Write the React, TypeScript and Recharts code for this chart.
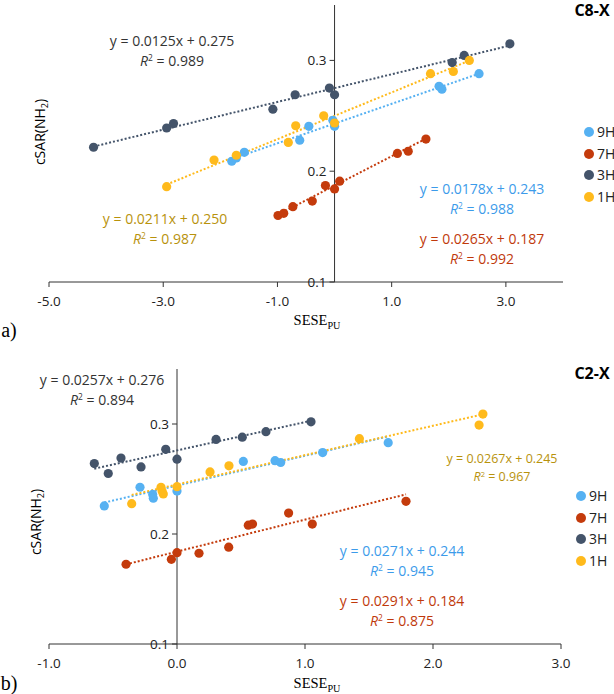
import React from "react";
import { ScatterChart, Scatter, XAxis, YAxis, ReferenceLine, ReferenceDot } from "recharts";

const SERIES = ["9H", "7H", "3H", "1H"];
const DOT_COLORS = ["#56B1F2", "#C43B0C", "#44546A", "#FFBA1C"];
const TEXT_COLORS = ["#3C9BEA", "#C0390B", "#333333", "#B8920C"];

const FONT = '"Open Sans", "Noto Sans", sans-serif';
const SERIF = '"Liberation Serif", "DejaVu Serif", serif';

// a) C8-X
const a9H_x = [-1.8, -1.72, -1.58, -0.61, -0.45, -0.03, 0.0, 1.83, 1.88, 2.53];
const a9H_y = [0.209, 0.212, 0.217, 0.228, 0.2405, 0.246, 0.2405, 0.2766, 0.274, 0.288];
const a7H_x = [-0.99, -0.89, -0.73, -0.39, -0.16, 0.0, 0.09, 1.1, 1.29, 1.6];
const a7H_y = [0.16, 0.162, 0.168, 0.173, 0.187, 0.184, 0.191, 0.216, 0.218, 0.229];
const a3H_x = [-4.22, -2.94, -2.82, -1.08, -0.69, -0.09, 0.0, 2.06, 2.27, 3.07];
const a3H_y = [0.2216, 0.239, 0.243, 0.256, 0.269, 0.275, 0.269, 0.298, 0.3045, 0.315];
const a1H_x = [-2.94, -2.11, -1.72, -0.81, -0.68, -0.19, 0.0, 1.68, 2.08, 2.36];
const a1H_y = [0.186, 0.21, 0.2144, 0.226, 0.241, 0.25, 0.2435, 0.288, 0.29, 0.3];
const aSlopes = [0.0178, 0.0265, 0.0125, 0.0211];
const aIntercepts = [0.243, 0.187, 0.275, 0.25];
const aR2 = [0.988, 0.992, 0.989, 0.987];
const aXTicks = [-5, -3, -1, 1, 3];

// b) C2-X
const b9H_x = [-0.568, -0.289, -0.19, -0.185, 0.0, 0.518, 0.766, 0.81, 1.138, 1.65];
const b9H_y = [0.2255, 0.2425, 0.236, 0.2325, 0.239, 0.266, 0.2667, 0.265, 0.274, 0.283];
const b7H_x = [-0.398, -0.044, 0.0, 0.172, 0.404, 0.557, 0.59, 0.872, 1.057, 1.789];
const b7H_y = [0.1725, 0.177, 0.183, 0.1825, 0.188, 0.208, 0.209, 0.219, 0.209, 0.2297];
const b3H_x = [-0.646, -0.537, -0.4375, -0.281, -0.088, 0.0, 0.305, 0.51, 0.695, 1.047];
const b3H_y = [0.264, 0.255, 0.269, 0.261, 0.277, 0.268, 0.286, 0.288, 0.293, 0.302];
const b1H_x = [-0.354, -0.125, -0.117, -0.107, 0.0, 0.258, 0.406, 1.425, 2.36, 2.39];
const b1H_y = [0.2276, 0.2425, 0.239, 0.2364, 0.243, 0.2564, 0.262, 0.2867, 0.299, 0.309];
const bSlopes = [0.0271, 0.0291, 0.0257, 0.0267];
const bIntercepts = [0.244, 0.184, 0.276, 0.245];
const bR2 = [0.945, 0.875, 0.894, 0.967];
const bXTicks = [-1, 0, 1, 2, 3];

const Y_TICKS = [0.1, 0.2, 0.3];

type Pt = { x: number; y: number };
const zip = (xs: number[], ys: number[]): Pt[] => xs.map((x, i) => ({ x, y: ys[i] }));

const aData = [zip(a9H_x, a9H_y), zip(a7H_x, a7H_y), zip(a3H_x, a3H_y), zip(a1H_x, a1H_y)];
const bData = [zip(b9H_x, b9H_y), zip(b7H_x, b7H_y), zip(b3H_x, b3H_y), zip(b1H_x, b1H_y)];

function Panel({ data, slopes, intercepts, xDomain, xTicks, top, height, margin }: any) {
  return (
    <div style={{ position: "absolute", left: 0, top }}>
      <ScatterChart width={614} height={height} margin={margin}>
        <XAxis
          type="number"
          dataKey="x"
          domain={xDomain}
          ticks={xTicks}
          allowDataOverflow
          height={30}
          tickFormatter={(v: number) => v.toFixed(1)}
          tick={{ fontSize: 13.5, fill: "#222", fontFamily: FONT }}
          tickSize={5}
          tickMargin={9}
          stroke="#333"
        />
        <YAxis type="number" dataKey="y" domain={[0.1, 0.35]} hide allowDataOverflow />
        <ReferenceLine x={0} stroke="#333" strokeWidth={1} />
        {Y_TICKS.map((v) => (
          <ReferenceDot
            key={v}
            x={0}
            y={v}
            r={0}
            ifOverflow="visible"
            shape={(p: any) => (
              <g>
                <line x1={p.cx - 5} y1={p.cy} x2={p.cx} y2={p.cy} stroke="#333" />
                <text x={p.cx - 8} y={p.cy + 5} textAnchor="end" fontSize={13.5} fill="#222" fontFamily={FONT}>
                  {v.toFixed(1)}
                </text>
              </g>
            )}
          />
        ))}
        {data.map((pts: Pt[], i: number) => (
          <Scatter
            key={SERIES[i]}
            name={SERIES[i]}
            data={pts}
            isAnimationActive={false}
            shape={(p: any) => <circle cx={p.cx} cy={p.cy} r={4.6} fill={DOT_COLORS[i]} />}
          />
        ))}
        {data.map((pts: Pt[], i: number) => {
          const xs = pts.map((d) => d.x);
          const x1 = Math.min(...xs);
          const x2 = Math.max(...xs);
          return (
            <ReferenceLine
              key={"t" + i}
              segment={[
                { x: x1, y: slopes[i] * x1 + intercepts[i] },
                { x: x2, y: slopes[i] * x2 + intercepts[i] },
              ]}
              stroke={DOT_COLORS[i]}
              strokeWidth={2}
              strokeDasharray="2 2"
              ifOverflow="visible"
            />
          );
        })}
      </ScatterChart>
    </div>
  );
}

function Eq({ x, y, i, slopes, intercepts, r2, size = 14, gap = 20 }: any) {
  const style: React.CSSProperties = {
    position: "absolute",
    left: x,
    transform: "translate(-50%, -50%)",
    whiteSpace: "nowrap",
    color: TEXT_COLORS[i],
    fontSize: size,
    fontFamily: FONT,
    lineHeight: 1,
  };
  return (
    <>
      <div style={{ ...style, top: y }}>
        y = {slopes[i].toFixed(4)}x + {intercepts[i].toFixed(3)}
      </div>
      <div style={{ ...style, top: y + gap }}>
        <i>R</i>
        <sup style={{ fontSize: "0.6em", verticalAlign: "0.6em" }}>2</sup> = {r2[i].toFixed(3)}
      </div>
    </>
  );
}

function Legend({ x, y }: { x: number; y: number }) {
  return (
    <>
      {SERIES.map((s, i) => (
        <div
          key={s}
          style={{
            position: "absolute",
            left: x - 5,
            top: y + i * 21.5 - 9,
            display: "flex",
            alignItems: "center",
            fontSize: 14,
            fontFamily: FONT,
            color: "#222",
            lineHeight: "18px",
          }}
        >
          <span
            style={{ width: 10, height: 10, borderRadius: 5, background: DOT_COLORS[i], marginRight: 3 }}
          />
          {s}
        </div>
      ))}
    </>
  );
}

function AbsText({ x, y, children, style }: any) {
  return (
    <div
      style={{
        position: "absolute",
        left: x,
        top: y,
        transform: "translate(-50%, -50%)",
        whiteSpace: "nowrap",
        lineHeight: 1,
        ...style,
      }}
    >
      {children}
    </div>
  );
}

export default function App() {
  const yLabel = (
    <>
      cSAR(NH<sub style={{ fontSize: "0.65em" }}>2</sub>)
    </>
  );
  const xLabel = (
    <>
      SESE<sub style={{ fontSize: "0.7em", lineHeight: 0 }}>PU</sub>
    </>
  );
  return (
    <div
      style={{
        position: "absolute",
        left: 0,
        top: 0,
        width: 614,
        height: 694,
        background: "#fff",
        overflow: "hidden",
        fontFamily: FONT,
      }}
    >
      <Panel
        data={aData}
        slopes={aSlopes}
        intercepts={aIntercepts}
        xDomain={[-5, 4]}
        xTicks={aXTicks}
        top={0}
        height={340}
        margin={{ top: 5, left: 49, right: 51, bottom: 28 }}
      />
      <Panel
        data={bData}
        slopes={bSlopes}
        intercepts={bIntercepts}
        xDomain={[-1, 3]}
        xTicks={bXTicks}
        top={340}
        height={354}
        margin={{ top: 29, left: 49, right: 53, bottom: 20 }}
      />

      {/* panel a text */}
      <Eq x={172} y={41} i={2} slopes={aSlopes} intercepts={aIntercepts} r2={aR2} />
      <Eq x={165} y={219} i={3} slopes={aSlopes} intercepts={aIntercepts} r2={aR2} />
      <Eq x={482} y={189} i={0} slopes={aSlopes} intercepts={aIntercepts} r2={aR2} />
      <Eq x={482} y={239} i={1} slopes={aSlopes} intercepts={aIntercepts} r2={aR2} />
      <AbsText x={592} y={10} style={{ fontWeight: 700, fontSize: 16, fontFamily: FONT }}>C8-X</AbsText>
      <Legend x={589} y={132} />
      <AbsText x={41} y={132} style={{ fontSize: 14, transform: "translate(-50%, -50%) rotate(-90deg)" }}>
        {yLabel}
      </AbsText>
      <AbsText x={317} y={320} style={{ fontSize: 14.5, fontFamily: SERIF }}>{xLabel}</AbsText>
      <AbsText x={9} y={330} style={{ fontSize: 20, fontFamily: SERIF }}>a)</AbsText>

      {/* panel b text */}
      <Eq x={102} y={380} i={2} slopes={bSlopes} intercepts={bIntercepts} r2={bR2} />
      <Eq x={502} y={459} i={3} slopes={bSlopes} intercepts={bIntercepts} r2={bR2} size={12.5} gap={18} />
      <Eq x={402} y={551} i={0} slopes={bSlopes} intercepts={bIntercepts} r2={bR2} />
      <Eq x={402} y={601} i={1} slopes={bSlopes} intercepts={bIntercepts} r2={bR2} />
      <AbsText x={592} y={373} style={{ fontWeight: 700, fontSize: 16, fontFamily: FONT }}>C2-X</AbsText>
      <Legend x={581} y={496} />
      <AbsText x={37} y={522} style={{ fontSize: 14, transform: "translate(-50%, -50%) rotate(-90deg)" }}>
        {yLabel}
      </AbsText>
      <AbsText x={317} y={683} style={{ fontSize: 14.5, fontFamily: SERIF }}>{xLabel}</AbsText>
      <AbsText x={9} y={683} style={{ fontSize: 20, fontFamily: SERIF }}>b)</AbsText>
    </div>
  );
}
